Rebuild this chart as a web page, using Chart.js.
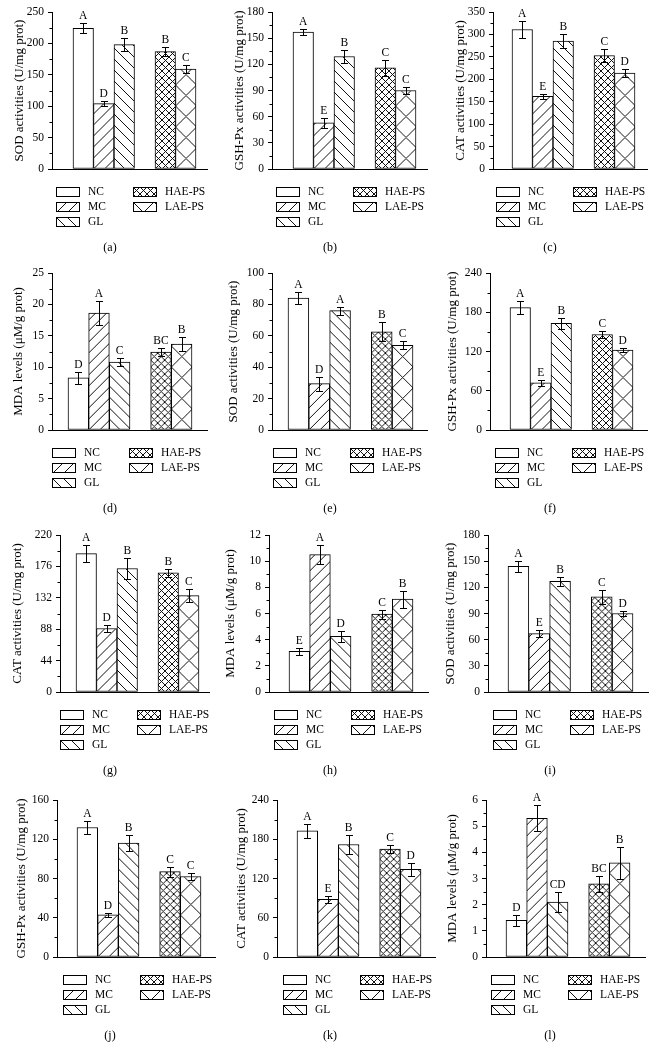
<!DOCTYPE html>
<html>
<head>
<meta charset="utf-8">
<script src="https://cdn.jsdelivr.net/npm/chart.js@4.4.1/dist/chart.umd.min.js"></script>
<style>
  html, body { margin: 0; padding: 0; background: #fff; }
  #fig { position: relative; width: 659px; height: 1064px; overflow: hidden; }
  #fig canvas { position: absolute; }
</style>
</head>
<body>
<div id="fig"></div>
<script>
// groups and their category slots (one empty slot between GL and HAE-PS)
const groups = ['NC', 'MC', 'GL', 'HAE-PS', 'LAE-PS'];
const slots = [0, 1, 2, 4, 5];

const panelTags = ['(a)', '(b)', '(c)', '(d)', '(e)', '(f)', '(g)', '(h)', '(i)', '(j)', '(k)', '(l)'];
const yTitles = [
  'SOD activities (U/mg prot)', 'GSH-Px activities (U/mg prot)', 'CAT activities (U/mg prot)',
  'MDA levels (μM/g prot)', 'SOD activities (U/mg prot)', 'GSH-Px activities (U/mg prot)',
  'CAT activities (U/mg prot)', 'MDA levels (μM/g prot)', 'SOD activities (U/mg prot)',
  'GSH-Px activities (U/mg prot)', 'CAT activities (U/mg prot)', 'MDA levels (μM/g prot)'
];
const yMax = [250, 180, 350, 25, 100, 240, 220, 12, 180, 160, 240, 6];
const yStep = [50, 30, 50, 5, 20, 60, 44, 2, 30, 40, 60, 1];

const aValues = [224, 104, 198, 187, 159];
const aErrors = [8, 4, 10, 7, 6];
const aLetters = ['A', 'D', 'B', 'B', 'C'];

const bValues = [157, 53, 129, 116, 90];
const bErrors = [3, 6, 7, 9, 4];
const bLetters = ['A', 'E', 'B', 'C', 'C'];

const cValues = [311, 162, 285, 253, 214];
const cErrors = [20, 6, 16, 15, 9];
const cLetters = ['A', 'E', 'B', 'C', 'D'];

const dValues = [8.3, 18.6, 10.8, 12.4, 13.7];
const dErrors = [0.9, 1.9, 0.6, 0.6, 1.1];
const dLetters = ['D', 'A', 'C', 'BC', 'B'];

const eValues = [84, 29.5, 76, 62.5, 54];
const eErrors = [3.8, 4.5, 2.5, 6, 2.5];
const eLetters = ['A', 'D', 'A', 'B', 'C'];

const fValues = [187, 72, 163, 146, 122];
const fErrors = [10, 5, 8, 5, 3];
const fLetters = ['A', 'E', 'B', 'C', 'D'];

const gValues = [194, 89, 173, 167, 135];
const gErrors = [12, 5, 15, 6, 9];
const gLetters = ['A', 'D', 'B', 'B', 'C'];

const hValues = [3.1, 10.5, 4.25, 5.95, 7.1];
const hErrors = [0.3, 0.75, 0.45, 0.35, 0.65];
const hLetters = ['E', 'A', 'D', 'C', 'B'];

const iValues = [144, 67, 127, 109, 90];
const iErrors = [6, 4, 5, 8, 2.5];
const iLetters = ['A', 'E', 'B', 'C', 'D'];

const jValues = [132, 43, 116, 87, 82];
const jErrors = [7, 2, 8, 5, 3.5];
const jLetters = ['A', 'D', 'B', 'C', 'C'];

const kValues = [193, 88, 172, 165, 134];
const kErrors = [11, 5, 15, 6, 10];
const kLetters = ['A', 'E', 'B', 'C', 'D'];

const lValues = [1.4, 5.3, 2.1, 2.8, 3.6];
const lErrors = [0.2, 0.5, 0.38, 0.3, 0.6];
const lLetters = ['D', 'A', 'CD', 'BC', 'B'];

const panelValues = [aValues, bValues, cValues, dValues, eValues, fValues, gValues, hValues, iValues, jValues, kValues, lValues];
const panelErrors = [aErrors, bErrors, cErrors, dErrors, eErrors, fErrors, gErrors, hErrors, iErrors, jErrors, kErrors, lErrors];
const panelLetters = [aLetters, bLetters, cLetters, dLetters, eLetters, fLetters, gLetters, hLetters, iLetters, jLetters, kLetters, lLetters];

// layout (px inside each panel): y axis x, first bar left, last bar right, x axis end, legend x, y title x
const frames = [
  [52, 73, 196, 207, 56, 20], [52, 73, 196, 207, 56, 20], [53, 72, 195, 207, 56, 21],
  [52, 68, 192, 207, 52, 19], [52, 68, 193, 207, 53, 14], [50, 70, 193, 207, 55, 13],
  [60, 76, 199, 209, 60, 18], [49, 69, 193, 208, 54, 11], [48, 68, 193, 208, 53, 11],
  [57, 77, 201, 215, 63, 22], [57, 77, 201, 215, 63, 22], [46, 66, 190, 205, 51, 13]
];
const colLefts = [0, 220, 440];
const rowTops = [0, 261, 523, 788];
const PLOT_TOP = 12, PLOT_H = 157;
const SERIF = '"Liberation Serif", "Times New Roman", serif';

function hatchPattern(period, dirs) {
  const tile = document.createElement('canvas');
  tile.width = tile.height = period;
  const g = tile.getContext('2d');
  g.fillStyle = '#fff';
  g.fillRect(0, 0, period, period);
  if (dirs) {
    g.strokeStyle = '#111';
    g.lineWidth = 1;
    g.beginPath();
    for (let k = -1; k <= 1; k++) {
      if (dirs.includes('/')) { g.moveTo(k * period, period); g.lineTo(k * period + period, 0); }
      if (dirs.includes('\\')) { g.moveTo(k * period, 0); g.lineTo(k * period + period, period); }
    }
    g.stroke();
  }
  return g.createPattern(tile, 'repeat');
}

function makePanel(p) {
  const col = p % 3, row = Math.floor(p / 3);
  const [axisX, firstLeft, lastRight, axisEnd, legendX, titleX] = frames[p];
  const W = col === 2 ? 219 : 220;
  const H = row === 3 ? 276 : 265;
  const canvas = document.createElement('canvas');
  canvas.width = W; canvas.height = H;
  canvas.style.left = colLefts[col] + 'px';
  canvas.style.top = rowTops[row] + 'px';
  document.getElementById('fig').appendChild(canvas);

  const slotPx = (lastRight - firstLeft) / 6;
  const pats = [
    hatchPattern(12, ''),
    hatchPattern(11, '/'),
    hatchPattern(11, '\\'),
    hatchPattern(7, '/\\'),
    hatchPattern(Math.round(slotPx), '/\\')
  ];
  const values = panelValues[p], errors = panelErrors[p], letters = panelLetters[p];
  const step = yStep[p];

  const decor = {
    id: 'decor',
    beforeDatasetsDraw(chart) {
      const bars = chart.getDatasetMeta(0).data;
      bars.forEach((bar, i) => {
        pats[i].setTransform(new DOMMatrix([1, 0, 0, 1, bar.x - bar.width / 2, chart.chartArea.bottom]));
      });
    },
    afterDatasetsDraw(chart) {
      const ctx = chart.ctx, ys = chart.scales.y;
      const bars = chart.getDatasetMeta(0).data;
      ctx.save();
      ctx.strokeStyle = '#000';
      ctx.lineWidth = 1;
      ctx.fillStyle = '#000';
      ctx.font = '11.5px ' + SERIF;
      ctx.textAlign = 'center';
      ctx.textBaseline = 'bottom';
      bars.forEach((bar, i) => {
        const x = Math.round(bar.x) + 0.5;
        const hi = Math.round(ys.getPixelForValue(values[i] + errors[i])) + 0.5;
        const lo = Math.round(ys.getPixelForValue(values[i] - errors[i])) + 0.5;
        ctx.beginPath();
        ctx.moveTo(x, hi); ctx.lineTo(x, lo);
        ctx.moveTo(x - 3.5, hi); ctx.lineTo(x + 3.5, hi);
        ctx.moveTo(x - 3.5, lo); ctx.lineTo(x + 3.5, lo);
        ctx.stroke();
        ctx.fillText(letters[i], bar.x, hi - 2);
      });
      ctx.restore();
    },
    afterDraw(chart) {
      const ctx = chart.ctx, ys = chart.scales.y, area = chart.chartArea;
      ctx.save();
      // minor ticks halfway between labelled ticks
      ctx.strokeStyle = '#000';
      ctx.lineWidth = 1;
      ctx.beginPath();
      for (let v = step / 2; v < yMax[p]; v += step) {
        const y = Math.round(ys.getPixelForValue(v)) + 0.5;
        ctx.moveTo(area.left - 2.5, y);
        ctx.lineTo(area.left, y);
      }
      ctx.stroke();
      // legend
      const top = area.bottom + 18;
      ctx.font = '11.5px ' + SERIF;
      ctx.textBaseline = 'middle';
      groups.forEach((name, i) => {
        const c = i < 3 ? 0 : 1, r = i < 3 ? i : i - 3;
        const x = legendX + c * 77, y = top + r * 15;
        pats[i].setTransform(new DOMMatrix([1, 0, 0, 1, x, y]));
        ctx.fillStyle = pats[i];
        ctx.fillRect(x, y, 23, 9);
        ctx.strokeRect(x + 0.5, y + 0.5, 23, 9);
        ctx.fillStyle = '#000';
        ctx.textAlign = 'left';
        ctx.fillText(name, x + 32, y + 5);
      });
      ctx.font = '12px ' + SERIF;
      ctx.textAlign = 'center';
      ctx.fillText(panelTags[p], 110, area.bottom + 79);
      ctx.restore();
    }
  };

  new Chart(canvas, {
    type: 'bar',
    data: {
      datasets: [{
        data: values.map((v, i) => ({ x: slots[i], y: v })),
        backgroundColor: pats,
        borderColor: '#000',
        borderWidth: 1,
        borderSkipped: false,
        barPercentage: 1,
        categoryPercentage: 1
      }]
    },
    options: {
      responsive: false,
      animation: false,
      devicePixelRatio: 1,
      events: [],
      layout: { padding: { top: PLOT_TOP, bottom: H - PLOT_TOP - PLOT_H, left: 0, right: W - axisEnd } },
      plugins: { legend: { display: false }, tooltip: { enabled: false } },
      scales: {
        x: {
          type: 'linear',
          offset: false,
          min: -0.5 - (firstLeft - axisX) / slotPx,
          max: 5.5 + (axisEnd - lastRight) / slotPx,
          grid: { display: false, offset: false },
          ticks: { display: false },
          border: { color: '#000', width: 1 },
          afterBuildTicks: (s) => { s.ticks = [0, 1, 2, 3, 4, 5].map(v => ({ value: v })); },
          afterFit: (s) => { s.height = 0; }
        },
        y: {
          min: 0,
          max: yMax[p],
          ticks: { stepSize: step, color: '#000', padding: 4, font: { family: SERIF, size: 11.5 } },
          grid: { drawOnChartArea: false, color: '#000', tickLength: 4 },
          border: { color: '#000', width: 1 },
          title: {
            display: true,
            text: yTitles[p],
            color: '#000',
            font: { family: SERIF, size: 13 },
            padding: { top: titleX - 7.8, bottom: 0 }
          },
          afterFit: (s) => { s.width = axisX; }
        }
      }
    },
    plugins: [decor]
  });
}

for (let p = 0; p < 12; p++) makePanel(p);
</script>
</body>
</html>
